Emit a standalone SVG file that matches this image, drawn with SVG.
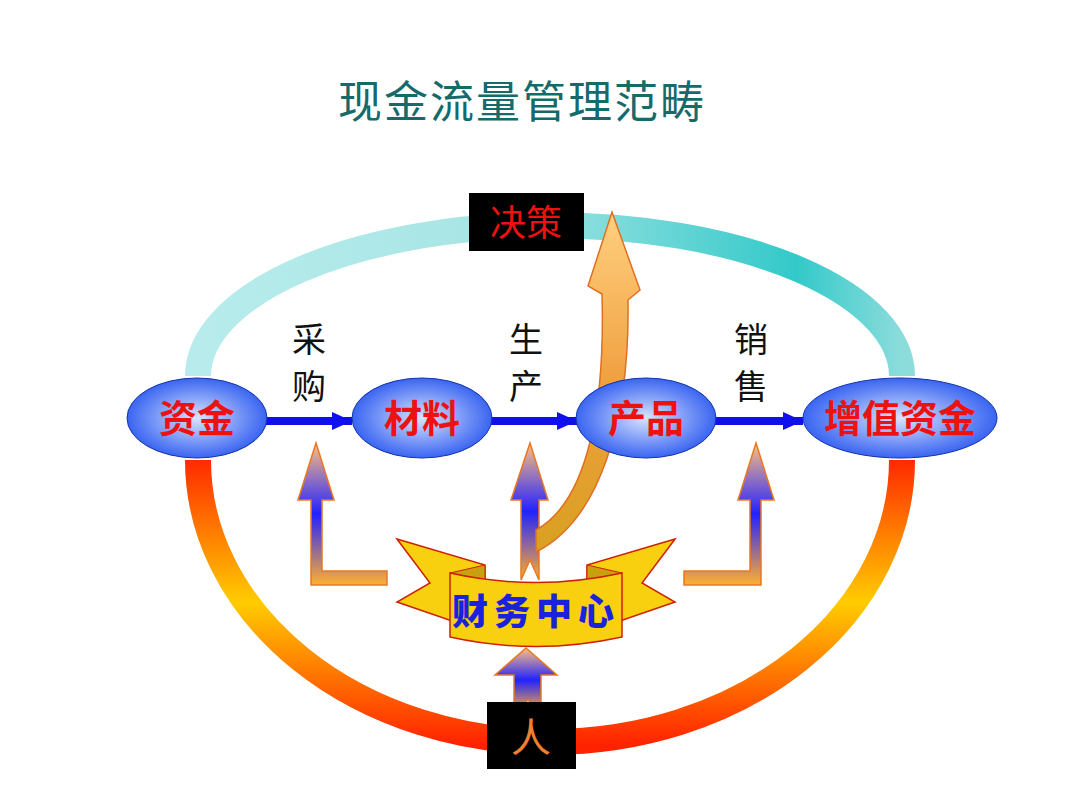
<svg xmlns="http://www.w3.org/2000/svg" width="1080" height="810" viewBox="0 0 1080 810">
<defs>
<linearGradient id="teal" x1="0" y1="0" x2="1" y2="0"><stop offset="0" stop-color="#b8ecec"/><stop offset="0.45" stop-color="#a6e4e4"/><stop offset="0.85" stop-color="#33c9c9"/><stop offset="1" stop-color="#8ddcdc"/></linearGradient>
<linearGradient id="fire" x1="0" y1="460" x2="0" y2="745" gradientUnits="userSpaceOnUse"><stop offset="0" stop-color="#ff2a00"/><stop offset="0.5" stop-color="#ffcc00"/><stop offset="1" stop-color="#ff2200"/></linearGradient>
<radialGradient id="node" cx="0.5" cy="0.5" r="0.55"><stop offset="0" stop-color="#d8e4ff"/><stop offset="1" stop-color="#2a58f0"/></radialGradient>
<linearGradient id="up" x1="0" y1="1" x2="0" y2="0"><stop offset="0" stop-color="#ffb030"/><stop offset="0.5" stop-color="#2222ff"/><stop offset="1" stop-color="#ffc080"/></linearGradient>
<linearGradient id="curve" x1="0" y1="1" x2="0" y2="0"><stop offset="0" stop-color="#d8a020"/><stop offset="0.5" stop-color="#f0a040"/><stop offset="1" stop-color="#ffd080"/></linearGradient>
<marker id="ah" markerWidth="20" markerHeight="18" refX="20" refY="9" orient="auto" markerUnits="userSpaceOnUse"><path d="M0,0 L20,9 L0,18 z" fill="#1010ee"/></marker>
</defs>
<style>
.lab{font-family:"Noto Sans CJK SC","Liberation Serif",serif;font-size:34px;fill:#111}
.nt{font-family:"Noto Sans CJK SC",sans-serif;font-weight:bold;font-size:38px;fill:#ee1111;text-anchor:middle}
.ua{stroke:#e87820;stroke-width:1.5;fill:url(#up)}
</style>
<rect width="1080" height="810" fill="#fff"/>
<text x="522" y="118" text-anchor="middle" style="font-family:'Noto Sans CJK SC',serif;font-size:44px;fill:#156a6a;letter-spacing:2px">现金流量管理范畴</text>
<g id="connectors">
<path d="M198,376 A350,150 0 0 1 902,376" fill="none" stroke="url(#teal)" stroke-width="26"/>
<path d="M198,460 A352,282 0 0 0 902,460" fill="none" stroke="url(#fire)" stroke-width="26"/>
<g stroke="#1010ee" stroke-width="8" marker-end="url(#ah)">
<line x1="266" y1="421" x2="352" y2="421"/>
<line x1="491" y1="421" x2="577" y2="421"/>
<line x1="715" y1="421" x2="803" y2="421"/>
</g>
<path class="ua" d="M316,443 L334,500 L322,500 L322,571 L387,571 L387,585 L311,585 L311,500 L298,500 Z"/>
<path class="ua" d="M756,443 L774,500 L761,500 L761,585 L684,585 L684,571 L750,571 L750,500 L738,500 Z"/>
<path class="ua" d="M530,443 L548,500 L539,500 L539,580 L530,560 L521,580 L521,500 L511,500 Z"/>
<path class="ua" d="M526,648 L557,675 L541,675 L541,712 L528,700 L514,712 L514,675 L495,675 Z"/>
</g>
<g id="banner">
<path d="M397,539 L485,565 L485,620 L455,622 L397,602 L430,583 Z" fill="#f8d010" stroke="#cc2200" stroke-width="1.5"/>
<path d="M675,539 L587,565 L587,620 L617,622 L675,602 L642,583 Z" fill="#f8d010" stroke="#cc2200" stroke-width="1.5"/>
<path d="M450,573 L485,565 L485,580 Z" fill="#c8a010" stroke="#cc2200"/>
<path d="M622,573 L587,565 L587,580 Z" fill="#c8a010" stroke="#cc2200"/>
<path d="M450,573 Q536,592 622,573 L622,637 Q536,656 450,637 Z" fill="#f8d010" stroke="#cc2200" stroke-width="1.5"/>
<path d="M536,552 C600,520 630,420 628,300 L640,290 L612,212 L588,286 L602,294 C605,400 590,500 536,530 Z" fill="url(#curve)" stroke="#e07020" stroke-width="1.5"/>
<text x="536" y="625" text-anchor="middle" style="font-family:'Noto Sans CJK SC',sans-serif;font-weight:900;font-size:36px;fill:#1a22dd;letter-spacing:6px">财务中心</text>
</g>
<g id="juece"><rect x="469" y="193" width="115" height="58" fill="#000"/><text x="526" y="236" text-anchor="middle" style="font-family:'Noto Sans CJK SC',serif;font-size:36px;fill:#ee1111">决策</text></g>
<g id="ren"><rect x="487" y="702" width="89" height="67" fill="#000"/><text x="531" y="752" text-anchor="middle" style="font-family:'Noto Sans CJK SC',serif;font-size:40px;fill:#f08030">人</text></g>
<g id="n1"><ellipse cx="197" cy="418" rx="70" ry="40" fill="url(#node)" stroke="#1133aa"/><text class="nt" x="197" y="432">资金</text></g>
<g id="n2"><ellipse cx="422" cy="418" rx="70" ry="40" fill="url(#node)" stroke="#1133aa"/><text class="nt" x="422" y="432">材料</text></g>
<g id="n3"><ellipse cx="646" cy="418" rx="70" ry="40" fill="url(#node)" stroke="#1133aa"/><text class="nt" x="646" y="432">产品</text></g>
<g id="n4"><ellipse cx="900" cy="418" rx="97" ry="40" fill="url(#node)" stroke="#1133aa"/><text class="nt" x="900" y="432">增值资金</text></g>
<g id="labels">
<text class="lab" x="292" y="352">采</text><text class="lab" x="292" y="399">购</text>
<text class="lab" x="509" y="352">生</text><text class="lab" x="509" y="399">产</text>
<text class="lab" x="734" y="352">销</text><text class="lab" x="734" y="399">售</text>
</g>
</svg>
